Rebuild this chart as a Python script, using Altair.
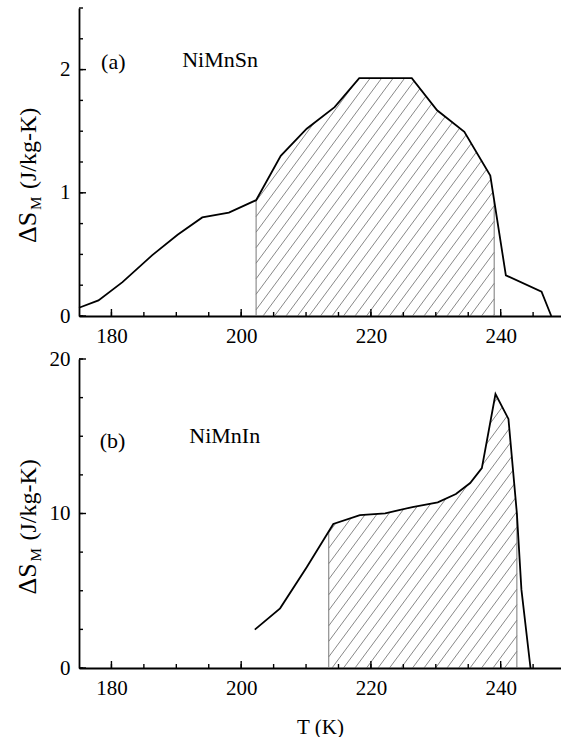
import altair as alt
import numpy as np
import pandas as pd

# ---------------- data ----------------
T_SN = [175, 178, 181.7, 186.3, 190.2, 194.0, 198.1, 202.3, 206.1, 210.1, 214.4,
        218.2, 226.3, 230.2, 234.4, 238.4, 240.8, 246.3, 247.8]
S_SN = [0.067, 0.127, 0.275, 0.494, 0.66, 0.80, 0.84, 0.94, 1.30, 1.52, 1.695,
        1.93, 1.93, 1.67, 1.495, 1.14, 0.33, 0.197, 0.0]

T_IN = [202.1, 206.0, 210.1, 214.2, 218.3, 222.2, 226.4, 230.3, 233.1, 235.3,
        237.1, 239.2, 241.2, 242.5, 243.2, 244.6]
S_IN = [2.48, 3.86, 6.52, 9.32, 9.90, 10.01, 10.42, 10.72, 11.26, 11.97,
        12.94, 17.73, 16.12, 10.0, 5.07, 0.0]

BAND_SN = [202.3, 239.0]
BAND_IN = [213.5, 242.5]

X_DOMAIN = [175, 249.3]
Y_SN = [0, 2.5]
Y_IN = [0, 20]
X_LABELS = [180, 200, 220, 240]
X_MINOR = [180, 185, 190, 195, 200, 205, 210, 215, 220, 225, 230, 235, 240, 245]
Y_SN_MAJOR = [0, 1, 2]
Y_SN_MINOR = [0, 0.25, 0.5, 0.75, 1, 1.25, 1.5, 1.75, 2, 2.25, 2.5]
Y_IN_MAJOR = [0, 10, 20]
Y_IN_MINOR = [0, 2.5, 5, 7.5, 10, 12.5, 15, 17.5, 20]

ANNOT_SN = pd.DataFrame({"t": [178.4, 190.9], "s": [2.06, 2.08], "label": ["(a)", "NiMnSn"]})
ANNOT_IN = pd.DataFrame({"t": [178.2, 192.0], "s": [14.67, 15.04], "label": ["(b)", "NiMnIn"]})

W = 482
H1 = 308
H2 = 309
FONT = "Times New Roman, Liberation Serif, serif"
FS = 21


def hatch_segments(T, S, band, ydom, h, spacing=11.5, slope=1.35):
    kx = W / (X_DOMAIN[1] - X_DOMAIN[0])
    ky = h / (ydom[1] - ydom[0])
    xs = np.linspace(band[0], band[1], 4000)
    cy = np.interp(xs, T, S) * ky
    px = (xs - X_DOMAIN[0]) * kx
    start = np.floor((px[0] - cy.max() / slope) / spacing) * spacing
    rows = []
    for c in np.arange(start, px[-1], spacing):
        ly = slope * (px - c)
        inside = (ly >= 0) & (ly <= cy)
        idx = np.flatnonzero(inside)
        if len(idx) < 2:
            continue
        splits = np.where(np.diff(idx) > 1)[0]
        starts = np.r_[idx[0], idx[splits + 1]]
        ends = np.r_[idx[splits], idx[-1]]
        for a, b in zip(starts, ends):
            if b <= a:
                continue
            x1, x2 = px[a], px[b]
            rows.append({
                "t1": X_DOMAIN[0] + x1 / kx, "y1": slope * (x1 - c) / ky,
                "t2": X_DOMAIN[0] + x2 / kx, "y2": slope * (x2 - c) / ky,
            })
    return pd.DataFrame(rows)


def panel(T, S, band, ydom, h, ymajor, yminor, annot, xtitle):
    xs = alt.Scale(domain=X_DOMAIN, nice=False, zero=False)
    ys = alt.Scale(domain=ydom, nice=False, zero=False)
    line_df = pd.DataFrame({"t": T, "s": S})

    xaxis = alt.Axis(values=X_LABELS, ticks=False, grid=False, labelFont=FONT,
                     labelFontSize=FS, labelColor="black", labelPadding=9,
                     domainColor="black", domainWidth=1.8, title=xtitle,
                     titleFont=FONT, titleFontSize=FS, titleFontWeight="normal",
                     titleColor="black", titlePadding=18, format="~g")
    yaxis = alt.Axis(values=ymajor, ticks=False, grid=False, labelFont=FONT,
                     labelFontSize=FS, labelColor="black", labelPadding=9,
                     domainColor="black", domainWidth=1.8, title="", format="~g")

    hatch = alt.Chart(hatch_segments(T, S, band, ydom, h)).mark_rule(
        stroke="#555555", strokeWidth=0.7
    ).encode(
        x=alt.X("t1:Q", scale=xs), y=alt.Y("y1:Q", scale=ys), x2="t2:Q", y2="y2:Q"
    )

    edge_df = pd.DataFrame({"t": band, "lo": [0, 0],
                            "hi": list(np.interp(band, T, S))})
    edges = alt.Chart(edge_df).mark_rule(stroke="#777777", strokeWidth=1).encode(
        x=alt.X("t:Q", scale=xs), y=alt.Y("lo:Q", scale=ys), y2="hi:Q"
    )

    line = alt.Chart(line_df).mark_line(color="black", strokeWidth=1.8).encode(
        x=alt.X("t:Q", scale=xs, axis=xaxis),
        y=alt.Y("s:Q", scale=ys, axis=yaxis),
    )

    xmin = alt.Chart(pd.DataFrame({"v": X_MINOR})).mark_rule(
        color="black", strokeWidth=1.4).encode(
        x=alt.X("v:Q", scale=xs), y=alt.value(h), y2=alt.value(h - 4))
    xmaj = alt.Chart(pd.DataFrame({"v": X_LABELS})).mark_rule(
        color="black", strokeWidth=1.4).encode(
        x=alt.X("v:Q", scale=xs), y=alt.value(h), y2=alt.value(h - 7))
    ymin = alt.Chart(pd.DataFrame({"v": yminor})).mark_rule(
        color="black", strokeWidth=1.4).encode(
        y=alt.Y("v:Q", scale=ys), x=alt.value(0), x2=alt.value(4))
    ymaj = alt.Chart(pd.DataFrame({"v": ymajor})).mark_rule(
        color="black", strokeWidth=1.4).encode(
        y=alt.Y("v:Q", scale=ys), x=alt.value(0), x2=alt.value(7))

    labels = alt.Chart(annot).mark_text(
        font=FONT, fontSize=22, align="left", baseline="middle", color="black"
    ).encode(x=alt.X("t:Q", scale=xs), y=alt.Y("s:Q", scale=ys), text="label:N")

    # y-axis title with a real subscript, built from three rotated text pieces
    y0 = h / 2 + 81
    one = pd.DataFrame({"k": [0]})
    t1 = alt.Chart(one).mark_text(font=FONT, fontSize=26, angle=270, align="left",
                                  baseline="alphabetic", color="black", text="ΔS").encode(
        x=alt.value(-43), y=alt.value(y0))
    t2 = alt.Chart(one).mark_text(font=FONT, fontSize=15, angle=270, align="left",
                                  baseline="alphabetic", color="black", text="M").encode(
        x=alt.value(-38.5), y=alt.value(y0 - 33))
    t3 = alt.Chart(one).mark_text(font=FONT, fontSize=24, angle=270, align="left",
                                  baseline="alphabetic", color="black", text="(J/kg-K)").encode(
        x=alt.value(-43), y=alt.value(y0 - 54))

    return alt.layer(hatch, edges, line, xmin, xmaj, ymin, ymaj, labels, t1, t2, t3).properties(
        width=W, height=h)


top = panel(T_SN, S_SN, BAND_SN, Y_SN, H1, Y_SN_MAJOR, Y_SN_MINOR, ANNOT_SN, "")
bottom = panel(T_IN, S_IN, BAND_IN, Y_IN, H2, Y_IN_MAJOR, Y_IN_MINOR, ANNOT_IN, "T (K)")

chart = alt.vconcat(top, bottom, spacing=2).properties(
    padding={"left": 15, "top": 7, "right": 0, "bottom": 0},
    background="white",
).configure_view(strokeOpacity=0)

chart.save("out.html", embed_options={"renderer": "svg", "actions": False})
